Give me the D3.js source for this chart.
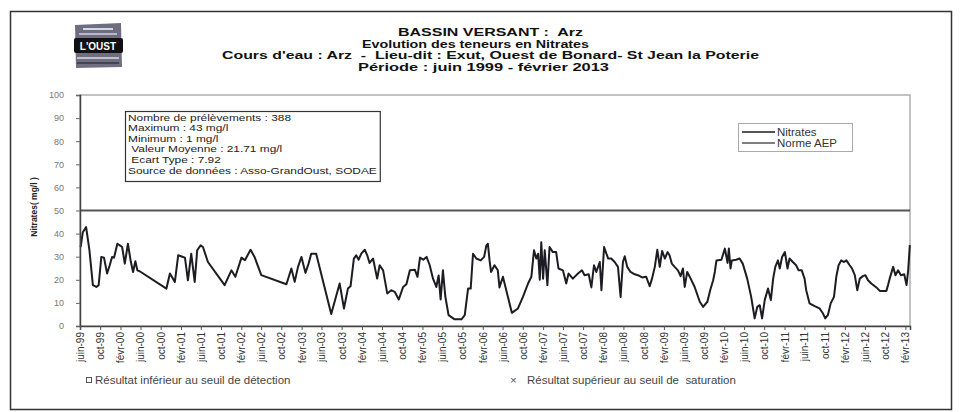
<!DOCTYPE html>
<html>
<head>
<meta charset="utf-8">
<script src="https://cdn.jsdelivr.net/npm/d3@7"></script>
<style>
body { margin: 0; background: #fff; }
svg { display: block; font-family: "Liberation Sans", Arial, sans-serif; }
</style>
</head>
<body>
<svg width="962" height="412"></svg>
<script>
// Arz, exutoire : nitrates (mg/l), relevés
var sampleDates = [
  "1999-06-05","1999-06-18","1999-07-08","1999-07-28","1999-08-18","1999-09-08","1999-09-22","1999-10-08",
  "1999-10-24","1999-11-12","1999-11-28","1999-12-12","1999-12-24","2000-01-13","2000-01-28","2000-02-11",
  "2000-02-27","2000-03-17","2000-04-03","2000-04-17","2000-05-01","2000-05-13","2000-05-27","2000-11-05",
  "2000-11-26","2000-12-26","2001-01-15","2001-02-09","2001-02-25","2001-03-15","2001-04-04","2001-04-25",
  "2001-05-10","2001-05-31","2001-06-14","2001-07-14","2001-10-23","2001-12-03","2001-12-27","2002-02-02",
  "2002-02-23","2002-03-29","2002-04-22","2002-06-02","2002-11-01","2002-12-01","2002-12-21","2003-01-10",
  "2003-01-31","2003-02-24","2003-03-15","2003-03-31","2003-04-30","2003-07-30","2003-09-19","2003-10-15",
  "2003-11-08","2003-11-24","2003-12-14","2003-12-28","2004-01-12","2004-01-28","2004-02-18","2004-03-04",
  "2004-03-18","2004-04-08","2004-05-03","2004-05-18","2004-06-08","2004-07-03","2004-07-27","2004-08-17",
  "2004-09-11","2004-10-07","2004-10-27","2004-11-17","2004-12-17","2005-01-02","2005-01-17","2005-02-06",
  "2005-02-26","2005-03-17","2005-04-06","2005-04-26","2005-05-10","2005-05-22","2005-06-05","2005-06-19",
  "2005-07-09","2005-08-15","2005-09-25","2005-10-15","2005-11-04","2005-11-20","2005-12-04","2005-12-24",
  "2006-01-20","2006-02-09","2006-02-23","2006-03-04","2006-03-14","2006-03-23","2006-04-13","2006-05-03",
  "2006-05-13","2006-06-03","2006-07-27","2006-09-02","2006-10-02","2006-11-02","2006-11-22","2006-12-08",
  "2006-12-22","2007-01-02","2007-01-12","2007-01-21","2007-02-01","2007-02-11","2007-02-27","2007-03-12",
  "2007-04-01","2007-04-21","2007-05-05","2007-06-01","2007-06-21","2007-07-05","2007-07-31","2007-08-31",
  "2007-09-24","2007-10-10","2007-11-04","2007-11-20","2007-12-06","2007-12-20","2008-01-10","2008-01-20",
  "2008-02-05","2008-02-19","2008-03-01","2008-03-19","2008-04-09","2008-04-29","2008-05-15","2008-05-29",
  "2008-06-09","2008-06-24","2008-07-14","2008-08-08","2008-08-28","2008-09-22","2008-10-17","2008-11-07",
  "2008-11-21","2008-12-08","2008-12-23","2009-01-07","2009-01-21","2009-02-07","2009-02-23","2009-03-07",
  "2009-03-21","2009-04-07","2009-04-27","2009-05-13","2009-05-27","2009-06-07","2009-06-22","2009-07-13",
  "2009-08-06","2009-09-06","2009-09-26","2009-10-22","2009-11-08","2009-11-26","2009-12-06","2009-12-16",
  "2010-01-15","2010-02-05","2010-02-21","2010-03-01","2010-03-11","2010-03-19","2010-04-14","2010-05-05",
  "2010-05-24","2010-06-20","2010-07-14","2010-08-04","2010-08-20","2010-09-04","2010-09-18","2010-10-04",
  "2010-10-24","2010-11-10","2010-11-24","2010-12-07","2010-12-23","2011-01-03","2011-01-17","2011-02-03",
  "2011-02-19","2011-03-03","2011-03-23","2011-04-12","2011-04-27","2011-05-16","2011-06-02","2011-06-12",
  "2011-07-02","2011-08-02","2011-09-01","2011-09-21","2011-10-05","2011-10-21","2011-11-07","2011-11-27",
  "2011-12-11","2011-12-25","2012-01-10","2012-01-27","2012-02-10","2012-03-01","2012-03-15","2012-04-01",
  "2012-04-16","2012-05-01","2012-05-20","2012-06-04","2012-06-20","2012-07-10","2012-08-10","2012-08-30",
  "2012-10-09","2012-10-19","2012-10-29","2012-11-19","2012-12-03","2012-12-19","2013-01-05","2013-01-25",
  "2013-02-08","2013-02-18","2013-02-28"
];
var nitrates = [
  34.2,40.6,42.8,32.8,17.7,16.9,17.7,29.9,
  29.6,22.7,26.3,29.9,29.6,35.6,34.9,34.2,
  27.0,35.6,28.0,23.4,28.0,24.1,23.7,16.2,
  22.7,19.1,30.6,30.0,29.6,19.8,31.3,19.1,
  32.8,34.9,34.2,27.7,17.7,24.1,21.3,29.6,
  28.5,33.0,29.9,22.0,18.1,24.9,19.1,25.6,
  29.9,23.0,27.0,31.3,31.3,5.2,18.4,7.6,
  16.2,17.2,29.2,30.6,28.7,31.3,33.0,30.6,
  27.3,29.2,20.5,26.3,24.1,14.1,15.5,14.8,
  11.5,16.9,18.1,24.1,24.4,21.3,29.6,28.7,
  29.9,26.3,20.5,16.9,21.9,11.5,24.1,13.0,
  4.7,2.9,2.9,4.7,16.2,16.2,31.3,29.2,
  28.4,29.9,34.9,35.6,28.4,23.4,26.3,24.1,
  16.7,21.3,5.7,7.6,12.6,18.4,21.3,32.8,
  29.2,31.3,20.0,36.3,20.5,32.8,17.7,34.2,
  32.0,32.0,24.9,24.1,18.4,22.7,20.5,22.7,
  24.1,22.0,22.4,16.7,26.3,23.4,27.7,15.5,
  34.2,31.3,29.2,29.2,27.7,25.6,12.6,27.7,
  30.2,25.6,23.4,22.4,22.0,21.0,21.3,17.2,
  20.5,25.6,33.0,25.6,32.5,29.2,32.0,30.6,
  27.0,25.6,24.1,21.6,24.9,16.9,23.4,20.5,
  16.9,10.5,8.3,10.5,15.5,19.8,23.4,28.4,
  28.7,33.5,27.3,33.5,24.9,28.4,28.7,29.2,
  27.0,20.5,12.6,3.3,8.3,9.0,3.3,11.2,
  16.2,11.2,20.5,25.6,28.4,24.9,29.9,32.0,
  24.9,29.2,27.7,26.3,24.1,24.1,20.5,15.5,
  9.8,8.6,7.6,5.5,3.3,4.7,9.8,12.6,
  21.3,26.3,28.4,27.7,28.4,26.3,24.9,22.0,
  15.5,20.5,21.6,22.0,19.8,18.4,16.7,15.2,
  15.2,17.7,20.5,25.6,22.0,24.1,22.0,22.4,
  17.7,24.1,35.0
];
var normeAEP = 50;
var yTicks = [0, 10, 20, 30, 40, 50, 60, 70, 80, 90, 100];
var moisCourts = ["janv", "févr", "mars", "avr", "mai", "juin", "juil", "août", "sept", "oct", "nov", "déc"];

var titreLignes = [
  "BASSIN VERSANT :  Arz",
  "Evolution des teneurs en Nitrates",
  "Cours d'eau : Arz  -  Lieu-dit : Exut, Ouest de Bonard- St Jean la Poterie",
  "Période : juin 1999 - février 2013"
];
var statsLignes = [
  "Nombre de prélèvements : 388",
  "Maximum : 43 mg/l",
  "Minimum : 1 mg/l",
  " Valeur Moyenne : 21.71 mg/l",
  " Ecart Type : 7.92",
  "Source de données : Asso-GrandOust, SODAE"
];
var legendeSeries = ["Nitrates", "Norme AEP"];

var svg = d3.select("svg"),
    stretch = 1.15;

var parseDate = d3.timeParse("%Y-%m-%d");
var data = sampleDates.map(function(d, i) { return {date: parseDate(d), value: nitrates[i]}; });

var x = d3.scaleTime()
    .domain([new Date(1999, 5, 1), new Date(2013, 2, 1)])
    .range([80, 910]);
var y = d3.scaleLinear()
    .domain([0, 100])
    .range([326, 95]);

function hText(parent, px, py, s, size, weight, fill, sx) {
  return parent.append("text")
      .attr("transform", "translate(" + px + "," + py + ") scale(" + (sx || stretch) + ",1)")
      .attr("font-size", size)
      .attr("font-weight", weight || "normal")
      .attr("fill", fill || "#222")
      .style("white-space", "pre")
      .text(s);
}

// cadre extérieur
svg.append("rect")
    .attr("x", 10.5).attr("y", 11.5).attr("width", 941).attr("height", 398)
    .attr("fill", "none").attr("stroke", "#333").attr("stroke-width", 1.5);

// logo
var logo = svg.append("g").attr("transform", "translate(73,23)");
logo.append("path").attr("d", "M2,2 L48,0 L49,44 L3,45 Z").attr("fill", "#6e6e80");
logo.append("rect").attr("x", 10).attr("y", 5).attr("width", 30).attr("height", 2).attr("fill", "#d8d8e0");
logo.append("rect").attr("x", 6).attr("y", 10).attr("width", 38).attr("height", 2).attr("fill", "#b8b8c8");
logo.append("rect").attr("x", 1).attr("y", 15).attr("width", 49).attr("height", 15).attr("rx", 2).attr("fill", "#111");
logo.append("text").attr("x", 25).attr("y", 27).attr("text-anchor", "middle")
    .attr("font-size", 10).attr("font-weight", "bold").attr("fill", "#fff").text("L'OUST");
logo.append("rect").attr("x", 4).attr("y", 34).attr("width", 42).attr("height", 2).attr("fill", "#c0c0cc");
logo.append("rect").attr("x", 4).attr("y", 39).attr("width", 42).attr("height", 2).attr("fill", "#44444f");

// titre
var titreX = [398, 362, 222, 358], titreW = [185, 227, 537, 251];
svg.selectAll(".titre")
    .data(titreLignes)
  .enter().append("text")
    .attr("class", "titre")
    .attr("x", function(d, i) { return titreX[i]; })
    .attr("y", function(d, i) { return 36 + i * 11.7; })
    .attr("textLength", function(d, i) { return titreW[i]; })
    .attr("lengthAdjust", "spacingAndGlyphs")
    .attr("font-size", 10)
    .attr("font-weight", "bold")
    .attr("fill", "#111")
    .style("white-space", "pre")
    .text(function(d) { return d; });

// zone de tracé
svg.append("rect")
    .attr("x", 80).attr("y", 95).attr("width", 830).attr("height", 231)
    .attr("fill", "none").attr("stroke", "#999").attr("stroke-width", 1.2);

// norme AEP
svg.append("line")
    .attr("x1", x.range()[0]).attr("x2", x.range()[1])
    .attr("y1", y(normeAEP)).attr("y2", y(normeAEP))
    .attr("stroke", "#555").attr("stroke-width", 2);

// série nitrates
var line = d3.line()
    .x(function(d) { return x(d.date); })
    .y(function(d) { return y(d.value); });
svg.append("path")
    .datum(data)
    .attr("fill", "none")
    .attr("stroke", "#1c1c22")
    .attr("stroke-width", 2)
    .attr("stroke-linejoin", "round")
    .attr("d", line);

// axe Y
var yAxis = svg.append("g")
    .attr("transform", "translate(80,0)")
    .call(d3.axisLeft(y).tickValues(yTicks).tickSize(4).tickPadding(12));
yAxis.select(".domain").attr("stroke", "#444").attr("stroke-width", 1.5);
yAxis.selectAll(".tick line").attr("stroke", "#666");
yAxis.selectAll("text").attr("font-size", 9).attr("fill", "#777")
    .attr("font-family", "\"Liberation Sans\", Arial, sans-serif");

svg.append("text")
    .attr("transform", "translate(37,207) rotate(-90)")
    .attr("text-anchor", "middle")
    .attr("font-size", 8.5)
    .attr("font-weight", "bold")
    .attr("fill", "#222")
    .text("Nitrates( mg/l )");

// axe X
var tickDates = d3.timeMonth.range(new Date(1999, 5, 1), new Date(2013, 2, 1), 4);
var xAxis = svg.append("g")
    .attr("transform", "translate(0,326)")
    .call(d3.axisBottom(x)
        .tickValues(tickDates)
        .tickSize(4)
        .tickFormat(function(d) { return moisCourts[d.getMonth()] + "-" + d3.timeFormat("%y")(d); }));
xAxis.select(".domain").attr("stroke", "#444").attr("stroke-width", 1.5);
xAxis.selectAll(".tick line").attr("stroke", "#555");
xAxis.selectAll("text")
    .attr("transform", "rotate(-90)")
    .attr("x", -6).attr("y", 0).attr("dy", "0.35em")
    .style("text-anchor", "end")
    .attr("font-size", 10)
    .attr("fill", "#333")
    .attr("font-family", "\"Liberation Sans\", Arial, sans-serif");

// encadré statistiques
var stats = svg.append("g");
var statsBox = stats.append("rect")
    .attr("x", 125.5).attr("y", 111.5).attr("height", 70)
    .attr("fill", "#fff").attr("stroke", "#333").attr("stroke-width", 1.2);
var maxW = 0, statsSx = 1.25;
statsLignes.forEach(function(s, i) {
  var t = hText(stats, 128, 120.5 + i * 10.6, s, 9.5, "normal", "#222", statsSx);
  maxW = Math.max(maxW, t.node().getBBox().width * statsSx);
});
statsBox.attr("width", maxW + 6);

// légende
var leg = svg.append("g");
leg.append("rect")
    .attr("x", 738.5).attr("y", 123.5).attr("width", 114).attr("height", 28)
    .attr("fill", "#fff").attr("stroke", "#aaa");
var legStroke = ["#1c1c22", "#555"];
legendeSeries.forEach(function(s, i) {
  var ly = 132 + i * 11;
  leg.append("line")
      .attr("x1", 742).attr("x2", 775).attr("y1", ly).attr("y2", ly)
      .attr("stroke", legStroke[i]).attr("stroke-width", 1.5);
  hText(leg, 777, ly + 3.5, s, 10, "normal", "#333");
});

// mentions sous l'axe
svg.append("rect")
    .attr("x", 86.5).attr("y", 377.5).attr("width", 5).attr("height", 5)
    .attr("fill", "none").attr("stroke", "#555");
hText(svg, 95, 384, "Résultat inférieur au seuil de détection", 10, "normal", "#444");
hText(svg, 510, 384, "×", 10, "normal", "#555");
hText(svg, 527, 384, "Résultat supérieur au seuil de  saturation", 10, "normal", "#444");
</script>
</body>
</html>
